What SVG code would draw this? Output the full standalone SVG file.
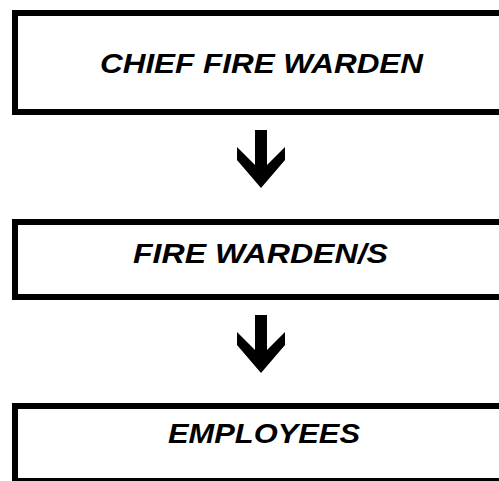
<svg xmlns="http://www.w3.org/2000/svg" width="499" height="481" viewBox="0 0 499 481">
<style>
.box{fill:#fff;stroke:#000;stroke-width:6}
.lbl{font-family:"Liberation Sans",Arial,sans-serif;font-weight:bold;font-style:italic;font-size:28px;fill:#000}
.arrow{fill:#000}
</style>
<defs>
<polygon id="arr" points="255,0 267,0 267,35 285,17 285,30 261,58 237,30 237,17 255,35"/>
</defs>
<rect width="499" height="481" fill="#fff"/>
<g id="node-chief">
<rect class="box" x="15" y="13" width="520" height="99"/>
<text class="lbl" x="100" y="73" textLength="323" lengthAdjust="spacingAndGlyphs">CHIEF FIRE WARDEN</text>
</g>
<g id="node-wardens">
<rect class="box" x="15" y="222" width="520" height="75"/>
<text class="lbl" x="133" y="263" textLength="255" lengthAdjust="spacingAndGlyphs">FIRE WARDEN/S</text>
</g>
<g id="node-employees">
<rect class="box" x="15" y="406" width="520" height="75"/>
<text class="lbl" x="168" y="443" textLength="192" lengthAdjust="spacingAndGlyphs">EMPLOYEES</text>
</g>
<g id="connectors">
<use href="#arr" class="arrow" y="130"/>
<use href="#arr" class="arrow" y="315"/>
</g>
</svg>
